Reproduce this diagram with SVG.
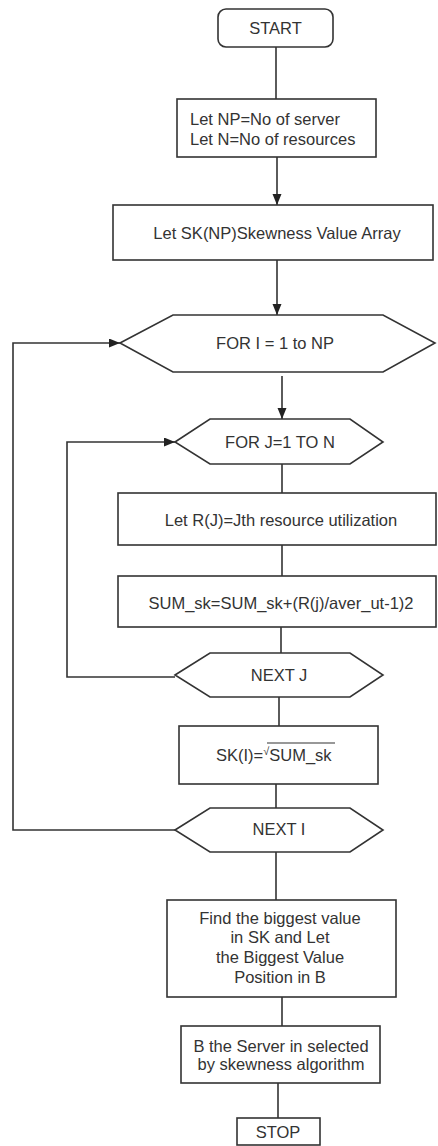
<svg xmlns="http://www.w3.org/2000/svg" width="438" height="1146" viewBox="0 0 438 1146">
<style>
  .shape { fill: #fff; stroke: #333; stroke-width: 1.6; }
  .conn { fill: none; stroke: #333; stroke-width: 1.6; }
  text { font-family: "Liberation Sans", Arial, sans-serif; font-size: 16.5px; fill: #333; }
  .c { text-anchor: middle; }
</style>
<defs>
  <marker id="arr" markerUnits="userSpaceOnUse" markerWidth="12" markerHeight="10" refX="11" refY="4.5" orient="auto">
    <path d="M0,0 L11,4.5 L0,9 z" fill="#222"/>
  </marker>
</defs>
<rect width="438" height="1146" fill="#fff"/>

<g id="connectors">
  <line class="conn" x1="276" y1="47" x2="276" y2="99"/>
  <line class="conn" x1="277" y1="157" x2="277" y2="205" marker-end="url(#arr)"/>
  <line class="conn" x1="277" y1="260" x2="277" y2="315" marker-end="url(#arr)"/>
  <line class="conn" x1="282" y1="376" x2="282" y2="419" marker-end="url(#arr)"/>
  <line class="conn" x1="282" y1="464" x2="282" y2="493"/>
  <line class="conn" x1="282" y1="545" x2="282" y2="576"/>
  <line class="conn" x1="281" y1="627" x2="281" y2="653"/>
  <line class="conn" x1="279" y1="697" x2="279" y2="726"/>
  <line class="conn" x1="276" y1="784" x2="276" y2="808"/>
  <line class="conn" x1="276" y1="852" x2="276" y2="900"/>
  <line class="conn" x1="282" y1="997" x2="282" y2="1026"/>
  <line class="conn" x1="278" y1="1083" x2="278" y2="1118"/>
  <polyline class="conn" points="175,677 67,677 67,442 175,442" marker-end="url(#arr)"/>
  <polyline class="conn" points="175,830 13,830 13,343 120,343" marker-end="url(#arr)"/>
</g>

<g id="start">
  <rect class="shape" x="218" y="9" width="115" height="38" rx="8"/>
  <text class="c" x="275.5" y="34">START</text>
</g>

<g id="init">
  <rect class="shape" x="177" y="99" width="199" height="58"/>
  <text x="190" y="125">Let NP=No of server</text>
  <text x="190" y="145">Let N=No of resources</text>
</g>

<g id="skarray">
  <rect class="shape" x="113" y="205" width="320" height="55"/>
  <text class="c" x="277" y="239">Let SK(NP)Skewness Value Array</text>
</g>

<g id="fori">
  <polygon class="shape" points="120,343 173,315 383,315 435,343 383,372 173,372"/>
  <text class="c" x="275" y="349">FOR I = 1 to NP</text>
</g>

<g id="forj">
  <polygon class="shape" points="175,442 210,419 350,419 383,442 350,464 210,464"/>
  <text class="c" x="280" y="448">FOR J=1 TO N</text>
</g>

<g id="rj">
  <rect class="shape" x="118" y="493" width="318" height="52"/>
  <text class="c" x="281" y="526">Let R(J)=Jth resource utilization</text>
</g>

<g id="sum">
  <rect class="shape" x="118" y="576" width="318" height="51"/>
  <text class="c" x="281" y="609">SUM_sk=SUM_sk+(R(j)/aver_ut-1)2</text>
</g>

<g id="nextj">
  <polygon class="shape" points="175,675 210,653 350,653 383,675 350,697 210,697"/>
  <text class="c" x="279" y="681">NEXT J</text>
</g>

<g id="ski">
  <rect class="shape" x="179" y="726" width="199" height="58"/>
  <text x="216" y="761">SK(I)=<tspan font-size="11" dy="-6">√</tspan><tspan dy="6">SUM_sk</tspan></text>
  <line x1="267" y1="743" x2="335" y2="743" stroke="#333" stroke-width="1.2"/>
</g>

<g id="nexti">
  <polygon class="shape" points="175,830 210,808 350,808 383,830 350,852 210,852"/>
  <text class="c" x="279" y="835">NEXT I</text>
</g>

<g id="find">
  <rect class="shape" x="167" y="900" width="229" height="97"/>
  <text class="c" x="280" y="924">Find the biggest value</text>
  <text class="c" x="280" y="943">in SK and Let</text>
  <text class="c" x="280" y="963">the Biggest Value</text>
  <text class="c" x="280" y="983">Position in B</text>
</g>

<g id="server">
  <rect class="shape" x="181" y="1026" width="199" height="57"/>
  <text class="c" x="281" y="1052">B the Server in selected</text>
  <text class="c" x="281" y="1070">by skewness algorithm</text>
</g>

<g id="stop">
  <rect class="shape" x="237" y="1118" width="83" height="27"/>
  <text class="c" x="278" y="1138">STOP</text>
</g>
</svg>
